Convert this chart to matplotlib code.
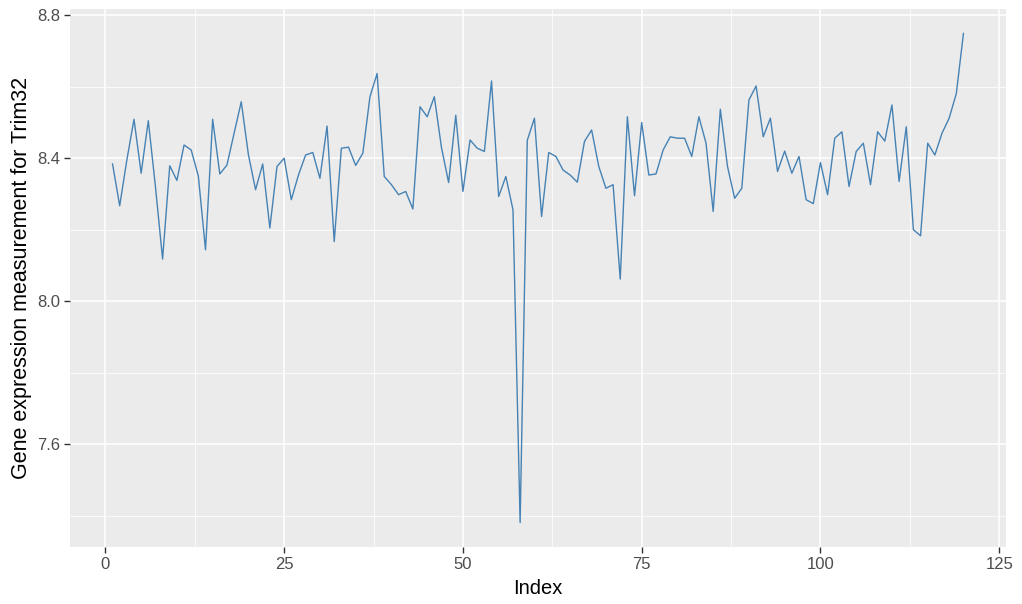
import matplotlib
matplotlib.use("Agg")
import matplotlib.pyplot as plt
import numpy as np

index = list(range(1, 121))
trim32 = [
    8.384, 8.267, 8.395, 8.509, 8.358, 8.505, 8.320, 8.118, 8.379, 8.338,
    8.437, 8.423, 8.350, 8.144, 8.509, 8.356, 8.381, 8.470, 8.558, 8.410,
    8.312, 8.384, 8.205, 8.377, 8.400, 8.284, 8.353, 8.409, 8.416, 8.344,
    8.490, 8.167, 8.428, 8.431, 8.380, 8.414, 8.572, 8.637, 8.349, 8.326,
    8.298, 8.307, 8.258, 8.544, 8.516, 8.572, 8.430, 8.332, 8.520, 8.307,
    8.451, 8.428, 8.419, 8.616, 8.293, 8.349, 8.256, 7.381, 8.450, 8.512,
    8.237, 8.416, 8.405, 8.367, 8.353, 8.333, 8.447, 8.479, 8.377, 8.316,
    8.326, 8.062, 8.516, 8.295, 8.500, 8.353, 8.356, 8.423, 8.460, 8.456,
    8.456, 8.405, 8.516, 8.442, 8.251, 8.537, 8.377, 8.288, 8.316, 8.563,
    8.602, 8.460, 8.512, 8.363, 8.420, 8.358, 8.405, 8.284, 8.273, 8.388,
    8.298, 8.456, 8.474, 8.321, 8.419, 8.442, 8.326, 8.474, 8.448, 8.549,
    8.335, 8.488, 8.200, 8.183, 8.442, 8.409, 8.470, 8.512, 8.581, 8.749,
]
x_ticks = [0, 25, 50, 75, 100, 125]
y_ticks = [7.6, 8.0, 8.4, 8.8]
x_minor = [12.5, 37.5, 62.5, 87.5, 112.5]
y_minor = [7.4, 7.8, 8.2, 8.6]

plt.rcParams['font.family'] = ['Liberation Sans', 'DejaVu Sans']

fig = plt.figure(figsize=(10.22, 6.04), dpi=100)
ax = fig.add_axes([70/1022, 57/604, 936/1022, 538/604])
ax.set_facecolor('#EBEBEB')

ax.plot(index, trim32, color='#4682B4', linewidth=1.0, zorder=3)

ymin, ymax = min(trim32), max(trim32)
yr = ymax - ymin
ax.set_ylim(ymin - 0.05*yr, ymax + 0.05*yr)
xr = max(index) - min(index)
ax.set_xlim(min(index) - 0.05*xr, max(index) + 0.05*xr)

ax.set_xticks(x_ticks)
ax.set_yticks(y_ticks)
ax.set_yticklabels([f"{v:.1f}" for v in y_ticks])
ax.set_xticks(x_minor, minor=True)
ax.set_yticks(y_minor, minor=True)
ax.grid(which='major', color='white', linewidth=1.1, zorder=1)
ax.grid(which='minor', color='white', linewidth=0.55, zorder=1)
ax.set_axisbelow(True)
for s in ax.spines.values():
    s.set_visible(False)
ax.tick_params(which='major', length=4, width=1, color='#333333',
               labelcolor='#4D4D4D', labelsize=12, pad=3)
ax.tick_params(which='minor', length=0)

ax.set_xlabel('Index', fontsize=14.5, color='black', labelpad=5)
ax.set_ylabel('Gene expression measurement for Trim32', fontsize=15.5,
              color='black', labelpad=4)

fig.savefig('out.png', dpi=100, facecolor='white')
